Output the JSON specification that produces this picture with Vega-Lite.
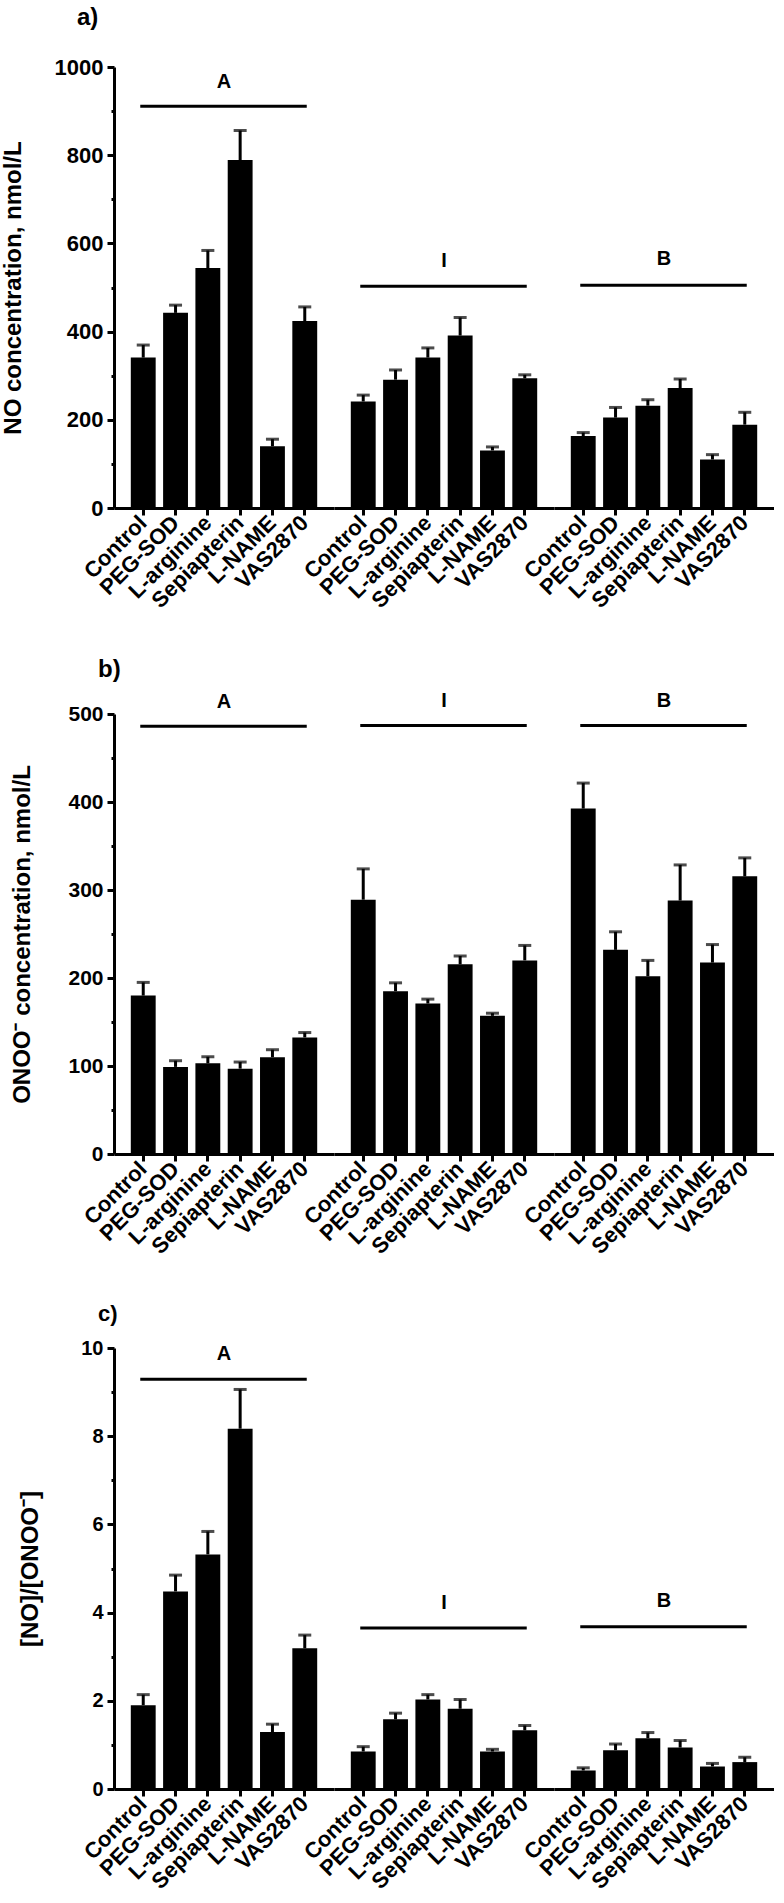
{
  "$schema": "https://vega.github.io/schema/vega-lite/v6.json",
  "padding": {"left": 0, "top": 6, "right": 0, "bottom": 0},
  "config": {
    "font": "Liberation Sans",
    "view": {"stroke": null},
    "scale": {"bandPaddingInner": 0.23, "bandPaddingOuter": 0.52},
    "axis": {"domainColor": "black", "tickColor": "black", "labelColor": "black", "titleColor": "black", "domainWidth": 3, "tickWidth": 3, "labelFontWeight": "bold", "titleFontWeight": "bold", "grid": false, "labelFont": "Liberation Sans", "titleFont": "Liberation Sans"},
    "title": {"color": "black", "font": "Liberation Sans"},
    "text": {"font": "Liberation Sans"}
  },
  "datasets": {
    "a": [
      {"g": "A", "t": "Control", "v": 341, "e": 369.5},
      {"g": "A", "t": "PEG-SOD", "v": 442.5, "e": 460},
      {"g": "A", "t": "L-arginine", "v": 544, "e": 584},
      {"g": "A", "t": "Sepiapterin", "v": 789, "e": 856},
      {"g": "A", "t": "L-NAME", "v": 140, "e": 156},
      {"g": "A", "t": "VAS2870", "v": 424, "e": 456},
      {"g": "I", "t": "Control", "v": 241.5, "e": 256},
      {"g": "I", "t": "PEG-SOD", "v": 291, "e": 313},
      {"g": "I", "t": "L-arginine", "v": 341, "e": 363},
      {"g": "I", "t": "Sepiapterin", "v": 391, "e": 432},
      {"g": "I", "t": "L-NAME", "v": 130.5, "e": 138.5},
      {"g": "I", "t": "VAS2870", "v": 294, "e": 302},
      {"g": "B", "t": "Control", "v": 163, "e": 171},
      {"g": "B", "t": "PEG-SOD", "v": 205, "e": 228},
      {"g": "B", "t": "L-arginine", "v": 232, "e": 245.5},
      {"g": "B", "t": "Sepiapterin", "v": 272, "e": 292.5},
      {"g": "B", "t": "L-NAME", "v": 110, "e": 121},
      {"g": "B", "t": "VAS2870", "v": 189, "e": 217},
      {"g": "A", "ly": 911, "ty": 967, "lab": "A"},
      {"g": "I", "ly": 503, "ty": 560, "lab": "I"},
      {"g": "B", "ly": 505, "ty": 565, "lab": "B"}
    ],
    "b": [
      {"g": "A", "t": "Control", "v": 180, "e": 195},
      {"g": "A", "t": "PEG-SOD", "v": 99, "e": 106},
      {"g": "A", "t": "L-arginine", "v": 103, "e": 110.5},
      {"g": "A", "t": "Sepiapterin", "v": 97, "e": 104.5},
      {"g": "A", "t": "L-NAME", "v": 110, "e": 118.5},
      {"g": "A", "t": "VAS2870", "v": 132.5, "e": 138},
      {"g": "I", "t": "Control", "v": 289, "e": 324},
      {"g": "I", "t": "PEG-SOD", "v": 185, "e": 194.5},
      {"g": "I", "t": "L-arginine", "v": 171, "e": 176},
      {"g": "I", "t": "Sepiapterin", "v": 215.5, "e": 225},
      {"g": "I", "t": "L-NAME", "v": 157, "e": 160},
      {"g": "I", "t": "VAS2870", "v": 220, "e": 237},
      {"g": "B", "t": "Control", "v": 392.5, "e": 421.5},
      {"g": "B", "t": "PEG-SOD", "v": 232, "e": 252.5},
      {"g": "B", "t": "L-arginine", "v": 202, "e": 220},
      {"g": "B", "t": "Sepiapterin", "v": 288, "e": 328.5},
      {"g": "B", "t": "L-NAME", "v": 217.5, "e": 238},
      {"g": "B", "t": "VAS2870", "v": 315.5, "e": 336.5},
      {"g": "A", "ly": 486, "ty": 514, "lab": "A"},
      {"g": "I", "ly": 487, "ty": 515, "lab": "I"},
      {"g": "B", "ly": 487, "ty": 515, "lab": "B"}
    ],
    "c": [
      {"g": "A", "t": "Control", "v": 1.9, "e": 2.14},
      {"g": "A", "t": "PEG-SOD", "v": 4.48, "e": 4.85},
      {"g": "A", "t": "L-arginine", "v": 5.32, "e": 5.84},
      {"g": "A", "t": "Sepiapterin", "v": 8.17, "e": 9.06},
      {"g": "A", "t": "L-NAME", "v": 1.29, "e": 1.47},
      {"g": "A", "t": "VAS2870", "v": 3.19, "e": 3.49},
      {"g": "I", "t": "Control", "v": 0.85, "e": 0.96},
      {"g": "I", "t": "PEG-SOD", "v": 1.58, "e": 1.72},
      {"g": "I", "t": "L-arginine", "v": 2.03, "e": 2.14},
      {"g": "I", "t": "Sepiapterin", "v": 1.82, "e": 2.03},
      {"g": "I", "t": "L-NAME", "v": 0.85, "e": 0.9},
      {"g": "I", "t": "VAS2870", "v": 1.33, "e": 1.44},
      {"g": "B", "t": "Control", "v": 0.42, "e": 0.48},
      {"g": "B", "t": "PEG-SOD", "v": 0.88, "e": 1.02},
      {"g": "B", "t": "L-arginine", "v": 1.15, "e": 1.28},
      {"g": "B", "t": "Sepiapterin", "v": 0.94, "e": 1.1},
      {"g": "B", "t": "L-NAME", "v": 0.51, "e": 0.58},
      {"g": "B", "t": "VAS2870", "v": 0.61, "e": 0.72},
      {"g": "A", "ly": 9.29, "ty": 9.86, "lab": "A"},
      {"g": "I", "ly": 3.65, "ty": 4.22, "lab": "I"},
      {"g": "B", "ly": 3.68, "ty": 4.27, "lab": "B"}
    ]
  },
  "vconcat": [
    {
      "data": {"name": "a"},
      "title": {"text": "a)", "anchor": "start", "fontSize": 24, "fontWeight": "bold", "dx": 76, "offset": 26},
      "facet": {"column": {"field": "g", "type": "nominal", "sort": ["A", "I", "B"], "header": {"title": null, "labels": false}}},
      "spacing": 0,
      "spec": {
        "width": 220, "height": 441,
        "layer": [
          {"transform": [{"filter": "isValid(datum.v)"}],
           "mark": {"type": "bar", "color": "black"},
           "encoding": {
             "x": {"field": "t", "type": "nominal", "title": null, "scale": {"type": "band", "domain": ["Control", "PEG-SOD", "L-arginine", "Sepiapterin", "L-NAME", "VAS2870"], "paddingInner": 0.23, "paddingOuter": 0.52},
                   "axis": {"labelAngle": -45, "labelAlign": "right", "labelBaseline": "middle", "labelFontSize": 22, "tickSize": 7, "labelPadding": 4}},
             "y": {"field": "v", "type": "quantitative", "title": "NO concentration, nmol/L", "scale": {"domain": [0, 1000], "nice": false},
                   "axis": {"values": [0, 100, 200, 300, 400, 500, 600, 700, 800, 900, 1000], "format": "d", "labelExpr": "datum.value % 200 == 0 ? datum.label : ''", "tickSize": {"condition": {"test": "datum.value % 200 == 0", "value": 7}, "value": 3}, "labelFontSize": 22, "labelPadding": 4, "titleFontSize": 24, "titleAngle": -90, "titleBaseline": "alphabetic", "titleAlign": "center", "titleX": -94}}
           }},
          {"transform": [{"filter": "isValid(datum.v)"}],
           "mark": {"type": "rule", "strokeWidth": 3, "color": "black"},
           "encoding": {
             "x": {"field": "t", "type": "nominal", "title": null, "scale": {"type": "band", "domain": ["Control", "PEG-SOD", "L-arginine", "Sepiapterin", "L-NAME", "VAS2870"], "paddingInner": 0.23, "paddingOuter": 0.52}},
             "y": {"field": "v", "type": "quantitative", "title": "NO concentration, nmol/L", "scale": {"domain": [0, 1000], "nice": false}},
             "y2": {"field": "e"}
           }},
          {"transform": [{"filter": "isValid(datum.v)"}],
           "mark": {"type": "tick", "orient": "horizontal", "size": 13, "thickness": 3, "color": "black"},
           "encoding": {
             "x": {"field": "t", "type": "nominal", "title": null, "scale": {"type": "band", "domain": ["Control", "PEG-SOD", "L-arginine", "Sepiapterin", "L-NAME", "VAS2870"], "paddingInner": 0.23, "paddingOuter": 0.52}},
             "y": {"field": "e", "type": "quantitative", "title": "NO concentration, nmol/L", "scale": {"domain": [0, 1000], "nice": false}}
           }},
          {"transform": [{"filter": "isValid(datum.ly)"}],
           "mark": {"type": "rule", "strokeWidth": 3, "color": "black"},
           "encoding": {
             "x": {"datum": "Control", "type": "nominal", "bandPosition": 0.38, "title": null, "scale": {"type": "band", "domain": ["Control", "PEG-SOD", "L-arginine", "Sepiapterin", "L-NAME", "VAS2870"], "paddingInner": 0.23, "paddingOuter": 0.52}},
             "x2": {"datum": "VAS2870", "bandPosition": 0.58},
             "y": {"field": "ly", "type": "quantitative", "title": "NO concentration, nmol/L", "scale": {"domain": [0, 1000], "nice": false}}
           }},
          {"transform": [{"filter": "isValid(datum.ly)"}],
           "mark": {"type": "text", "fontSize": 20, "fontWeight": "bold", "color": "black", "align": "center", "baseline": "middle"},
           "encoding": {
             "x": {"datum": "L-arginine", "type": "nominal", "bandPosition": 1.15, "title": null, "scale": {"type": "band", "domain": ["Control", "PEG-SOD", "L-arginine", "Sepiapterin", "L-NAME", "VAS2870"], "paddingInner": 0.23, "paddingOuter": 0.52}},
             "y": {"field": "ty", "type": "quantitative", "title": "NO concentration, nmol/L", "scale": {"domain": [0, 1000], "nice": false}},
             "text": {"field": "lab"}
           }}
        ]
      }
    },
    {
      "data": {"name": "b"},
      "title": {"text": "b)", "anchor": "start", "fontSize": 24, "fontWeight": "bold", "dx": 88, "offset": 9},
      "facet": {"column": {"field": "g", "type": "nominal", "sort": ["A", "I", "B"], "header": {"title": null, "labels": false}}},
      "spacing": 0,
      "spec": {
        "width": 220, "height": 440,
        "layer": [
          {"transform": [{"filter": "isValid(datum.v)"}],
           "mark": {"type": "bar", "color": "black"},
           "encoding": {
             "x": {"field": "t", "type": "nominal", "title": null, "scale": {"type": "band", "domain": ["Control", "PEG-SOD", "L-arginine", "Sepiapterin", "L-NAME", "VAS2870"], "paddingInner": 0.23, "paddingOuter": 0.52},
                   "axis": {"labelAngle": -45, "labelAlign": "right", "labelBaseline": "middle", "labelFontSize": 22, "tickSize": 7, "labelPadding": 4}},
             "y": {"field": "v", "type": "quantitative", "title": "ONOO⁻ concentration, nmol/L", "scale": {"domain": [0, 500], "nice": false},
                   "axis": {"values": [0, 50, 100, 150, 200, 250, 300, 350, 400, 450, 500], "format": "d", "labelExpr": "datum.value % 100 == 0 ? datum.label : ''", "tickSize": {"condition": {"test": "datum.value % 100 == 0", "value": 7}, "value": 3}, "labelFontSize": 21, "labelPadding": 4, "titleFontSize": 24, "titleAngle": -90, "titleBaseline": "alphabetic", "titleAlign": "center", "titleX": -85}}
           }},
          {"transform": [{"filter": "isValid(datum.v)"}],
           "mark": {"type": "rule", "strokeWidth": 3, "color": "black"},
           "encoding": {
             "x": {"field": "t", "type": "nominal", "title": null, "scale": {"type": "band", "domain": ["Control", "PEG-SOD", "L-arginine", "Sepiapterin", "L-NAME", "VAS2870"], "paddingInner": 0.23, "paddingOuter": 0.52}},
             "y": {"field": "v", "type": "quantitative", "title": "ONOO⁻ concentration, nmol/L", "scale": {"domain": [0, 500], "nice": false}},
             "y2": {"field": "e"}
           }},
          {"transform": [{"filter": "isValid(datum.v)"}],
           "mark": {"type": "tick", "orient": "horizontal", "size": 13, "thickness": 3, "color": "black"},
           "encoding": {
             "x": {"field": "t", "type": "nominal", "title": null, "scale": {"type": "band", "domain": ["Control", "PEG-SOD", "L-arginine", "Sepiapterin", "L-NAME", "VAS2870"], "paddingInner": 0.23, "paddingOuter": 0.52}},
             "y": {"field": "e", "type": "quantitative", "title": "ONOO⁻ concentration, nmol/L", "scale": {"domain": [0, 500], "nice": false}}
           }},
          {"transform": [{"filter": "isValid(datum.ly)"}],
           "mark": {"type": "rule", "strokeWidth": 3, "color": "black"},
           "encoding": {
             "x": {"datum": "Control", "type": "nominal", "bandPosition": 0.38, "title": null, "scale": {"type": "band", "domain": ["Control", "PEG-SOD", "L-arginine", "Sepiapterin", "L-NAME", "VAS2870"], "paddingInner": 0.23, "paddingOuter": 0.52}},
             "x2": {"datum": "VAS2870", "bandPosition": 0.58},
             "y": {"field": "ly", "type": "quantitative", "title": "ONOO⁻ concentration, nmol/L", "scale": {"domain": [0, 500], "nice": false}}
           }},
          {"transform": [{"filter": "isValid(datum.ly)"}],
           "mark": {"type": "text", "fontSize": 20, "fontWeight": "bold", "color": "black", "align": "center", "baseline": "middle"},
           "encoding": {
             "x": {"datum": "L-arginine", "type": "nominal", "bandPosition": 1.15, "title": null, "scale": {"type": "band", "domain": ["Control", "PEG-SOD", "L-arginine", "Sepiapterin", "L-NAME", "VAS2870"], "paddingInner": 0.23, "paddingOuter": 0.52}},
             "y": {"field": "ty", "type": "quantitative", "title": "ONOO⁻ concentration, nmol/L", "scale": {"domain": [0, 500], "nice": false}},
             "text": {"field": "lab"}
           }}
        ]
      }
    },
    {
      "data": {"name": "c"},
      "title": {"text": "c)", "anchor": "start", "fontSize": 22, "fontWeight": "bold", "dx": 80, "offset": 12},
      "facet": {"column": {"field": "g", "type": "nominal", "sort": ["A", "I", "B"], "header": {"title": null, "labels": false}}},
      "spacing": 0,
      "spec": {
        "width": 220, "height": 441,
        "layer": [
          {"transform": [{"filter": "isValid(datum.v)"}],
           "mark": {"type": "bar", "color": "black"},
           "encoding": {
             "x": {"field": "t", "type": "nominal", "title": null, "scale": {"type": "band", "domain": ["Control", "PEG-SOD", "L-arginine", "Sepiapterin", "L-NAME", "VAS2870"], "paddingInner": 0.23, "paddingOuter": 0.52},
                   "axis": {"labelAngle": -45, "labelAlign": "right", "labelBaseline": "middle", "labelFontSize": 22, "tickSize": 7, "labelPadding": 4}},
             "y": {"field": "v", "type": "quantitative", "title": "[NO]/[ONOO⁻]", "scale": {"domain": [0, 10], "nice": false},
                   "axis": {"values": [0, 1, 2, 3, 4, 5, 6, 7, 8, 9, 10], "format": "d", "labelExpr": "datum.value % 2 == 0 ? datum.label : ''", "tickSize": {"condition": {"test": "datum.value % 2 == 0", "value": 7}, "value": 3}, "labelFontSize": 20, "labelPadding": 4, "titleFontSize": 24, "titleAngle": -90, "titleBaseline": "alphabetic", "titleAlign": "center", "titleX": -77}}
           }},
          {"transform": [{"filter": "isValid(datum.v)"}],
           "mark": {"type": "rule", "strokeWidth": 3, "color": "black"},
           "encoding": {
             "x": {"field": "t", "type": "nominal", "title": null, "scale": {"type": "band", "domain": ["Control", "PEG-SOD", "L-arginine", "Sepiapterin", "L-NAME", "VAS2870"], "paddingInner": 0.23, "paddingOuter": 0.52}},
             "y": {"field": "v", "type": "quantitative", "title": "[NO]/[ONOO⁻]", "scale": {"domain": [0, 10], "nice": false}},
             "y2": {"field": "e"}
           }},
          {"transform": [{"filter": "isValid(datum.v)"}],
           "mark": {"type": "tick", "orient": "horizontal", "size": 13, "thickness": 3, "color": "black"},
           "encoding": {
             "x": {"field": "t", "type": "nominal", "title": null, "scale": {"type": "band", "domain": ["Control", "PEG-SOD", "L-arginine", "Sepiapterin", "L-NAME", "VAS2870"], "paddingInner": 0.23, "paddingOuter": 0.52}},
             "y": {"field": "e", "type": "quantitative", "title": "[NO]/[ONOO⁻]", "scale": {"domain": [0, 10], "nice": false}}
           }},
          {"transform": [{"filter": "isValid(datum.ly)"}],
           "mark": {"type": "rule", "strokeWidth": 3, "color": "black"},
           "encoding": {
             "x": {"datum": "Control", "type": "nominal", "bandPosition": 0.38, "title": null, "scale": {"type": "band", "domain": ["Control", "PEG-SOD", "L-arginine", "Sepiapterin", "L-NAME", "VAS2870"], "paddingInner": 0.23, "paddingOuter": 0.52}},
             "x2": {"datum": "VAS2870", "bandPosition": 0.58},
             "y": {"field": "ly", "type": "quantitative", "title": "[NO]/[ONOO⁻]", "scale": {"domain": [0, 10], "nice": false}}
           }},
          {"transform": [{"filter": "isValid(datum.ly)"}],
           "mark": {"type": "text", "fontSize": 20, "fontWeight": "bold", "color": "black", "align": "center", "baseline": "middle"},
           "encoding": {
             "x": {"datum": "L-arginine", "type": "nominal", "bandPosition": 1.15, "title": null, "scale": {"type": "band", "domain": ["Control", "PEG-SOD", "L-arginine", "Sepiapterin", "L-NAME", "VAS2870"], "paddingInner": 0.23, "paddingOuter": 0.52}},
             "y": {"field": "ty", "type": "quantitative", "title": "[NO]/[ONOO⁻]", "scale": {"domain": [0, 10], "nice": false}},
             "text": {"field": "lab"}
           }}
        ]
      }
    }
  ],
  "spacing": 45
}
